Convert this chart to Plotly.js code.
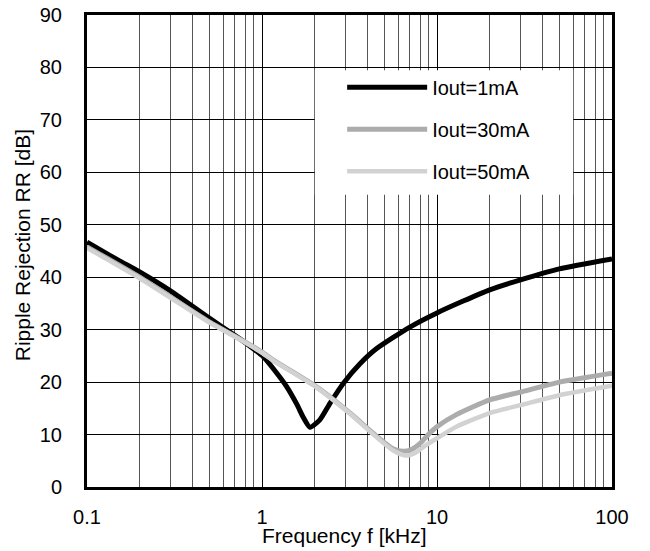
<!DOCTYPE html>
<html>
<head>
<meta charset="utf-8">
<script src="https://cdn.plot.ly/plotly-3.0.1.min.js"></script>
<style>html,body{margin:0;padding:0;background:#fff;}#chart{width:650px;height:551px;}</style>
</head>
<body>
<div id="chart"></div>
<script>
// Frequency in kHz, ripple rejection in dB
const freq1mA = [0.1, 0.15, 0.2, 0.3, 0.5, 0.7, 0.85, 1.02, 1.21, 1.38, 1.58, 1.72, 1.88, 2.14, 2.45, 2.92, 3.63, 4.52, 7.0, 10, 20, 30, 50, 100];
const rr1mA   = [46.7, 43.3, 41.0, 37.4, 32.2, 28.9, 26.9, 24.8, 21.8, 19.2, 15.8, 13.3, 11.4, 12.8, 16.0, 19.8, 23.5, 26.4, 30.5, 33.2, 37.6, 39.5, 41.6, 43.5];

const freq30mA = [0.1, 0.2, 0.5, 0.75, 1.0, 1.16, 2.05, 3.18, 4.33, 5.6, 6.4, 7.2, 8.0, 9.1, 10, 12.9, 20, 30, 50, 100];
const rr30mA   = [45.8, 40.0, 31.5, 28.2, 25.7, 24.2, 19.1, 14.1, 10.2, 7.3, 6.8, 7.2, 8.3, 10.3, 11.5, 13.8, 16.6, 18.1, 20.0, 21.7];

const freq50mA = [0.1, 0.2, 0.5, 0.75, 1.0, 1.16, 2.05, 3.18, 4.33, 5.6, 6.6, 7.5, 8.5, 10, 12.9, 20, 30, 50, 100];
const rr50mA   = [45.6, 39.8, 31.4, 28.1, 25.6, 24.1, 19.0, 14.0, 10.0, 7.0, 6.0, 6.5, 7.8, 9.3, 11.5, 14.1, 15.6, 17.5, 19.3];

const seriesNames = ["Iout=1mA", "Iout=30mA", "Iout=50mA"];
const xTickVals = [0.1, 1, 10, 100];
const xTickText = ["0.1", "1", "10", "100"];

const FONT = "Liberation Sans, Arial, Helvetica, sans-serif";

const traces = [
  {x: freq1mA, y: rr1mA, name: seriesNames[0], legendgroup: "a", mode: "lines",
   line: {color: "#000000", width: 5, shape: "spline", smoothing: 0.6}},
  {x: freq30mA, y: rr30mA, name: seriesNames[1], legendgroup: "b", mode: "lines",
   line: {color: "#acacac", width: 5, shape: "spline", smoothing: 0.6}},
  {x: freq50mA, y: rr50mA, name: seriesNames[2], legendgroup: "c", mode: "lines",
   line: {color: "#d2d2d2", width: 4.5, shape: "spline", smoothing: 0.6}}
];

const layout = {
  width: 650, height: 551,
  margin: {l: 87, r: 38, t: 15, b: 64},
  paper_bgcolor: "#ffffff", plot_bgcolor: "#ffffff",
  font: {family: FONT, size: 20, color: "#000000"},
  showlegend: true,
  legend: {x: 0.486, y: 0.888, xanchor: "left", yanchor: "top",
           bgcolor: "rgba(255,255,255,0)", borderwidth: 0, itemwidth: 80,
           tracegroupgap: 13, traceorder: "grouped",
           font: {family: FONT, size: 20, color: "#000"}},
  shapes: [
    {type: "rect", xref: "paper", yref: "paper", x0: 0.434, x1: 0.926, y0: 0.619, y1: 0.883,
     fillcolor: "#ffffff", line: {width: 0}, layer: "above"}
  ],
  xaxis: {type: "log", range: [-1, 2], tickvals: xTickVals, ticktext: xTickText,
          showgrid: true, gridcolor: "#000000", gridwidth: 1,
          minor: {dtick: "D1", showgrid: true, gridcolor: "#555555", gridwidth: 1, ticks: ""},
          showline: true, mirror: true, linecolor: "#000000", linewidth: 3,
          ticks: "", ticklabelstandoff: 10, zeroline: false,
          tickfont: {family: FONT, size: 20, color: "#000"}},
  yaxis: {range: [0, 90], dtick: 10, tick0: 0,
          showgrid: true, gridcolor: "#000000", gridwidth: 1,
          showline: true, mirror: true, linecolor: "#000000", linewidth: 3,
          ticks: "", ticklabelstandoff: 18, zeroline: false,
          tickfont: {family: FONT, size: 20, color: "#000"}},
  annotations: [
    {text: "Frequency f [kHz]", xref: "paper", yref: "paper", x: 0.49, y: -0.102,
     xanchor: "center", yanchor: "middle", showarrow: false,
     font: {family: FONT, size: 21, color: "#000"}},
    {text: "Ripple Rejection RR [dB]", xref: "paper", yref: "paper", x: -0.123, y: 0.513,
     xanchor: "center", yanchor: "middle", showarrow: false, textangle: -90,
     font: {family: FONT, size: 21, color: "#000"}}
  ]
};

Plotly.newPlot("chart", traces, layout, {displayModeBar: false, staticPlot: true});
</script>
</body>
</html>
